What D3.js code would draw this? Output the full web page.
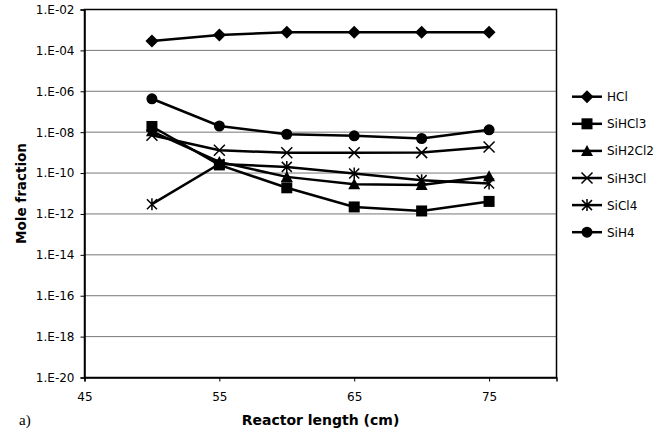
<!DOCTYPE html>
<html><head><meta charset="utf-8">
<script src="https://cdn.jsdelivr.net/npm/d3@7"></script>
<style>
html,body{margin:0;padding:0;background:#fff;}
svg{display:block;font-family:"DejaVu Sans",Verdana,sans-serif;}
</style></head>
<body><svg id="c" width="671" height="433"></svg>
<script>
const xValues = [50, 55, 60, 65, 70, 75];
const seriesNames = ["HCl", "SiHCl3", "SiH2Cl2", "SiH3Cl", "SiCl4", "SiH4"];
const HCl     = [2.9e-4, 5.7e-4, 7.8e-4, 7.8e-4, 7.8e-4, 7.8e-4];
const SiHCl3  = [1.9e-8, 2.5e-10, 1.9e-11, 2.2e-12, 1.4e-12, 4.1e-12];
const SiH2Cl2 = [1.1e-8, 3.5e-10, 6.5e-11, 2.8e-11, 2.6e-11, 7e-11];
const SiH3Cl  = [7e-9, 1.3e-9, 9.8e-10, 9.8e-10, 1.0e-9, 1.9e-9];
const SiCl4   = [3e-12, 2.8e-10, 2e-10, 9.5e-11, 4.5e-11, 3.1e-11];
const SiH4    = [4.3e-7, 2e-8, 7.9e-9, 6.6e-9, 4.9e-9, 1.3e-8];
const xTicks = [45, 55, 65, 75];
const yTicks = [1e-2, 1e-4, 1e-6, 1e-8, 1e-10, 1e-12, 1e-14, 1e-16, 1e-18, 1e-20];
const markerTypes = ["diamond", "square", "triangle", "x", "asterisk", "circle"];
const seriesValues = [HCl, SiHCl3, SiH2Cl2, SiH3Cl, SiCl4, SiH4];

const svg = d3.select("#c");
const L = 84.5, R = 556.5, T = 9.5, B = 377.5;
const x = d3.scaleLinear().domain([45, 80]).range([L, R]);
const y = d3.scaleLog().domain([1e-20, 1e-2]).range([B, T]);

const fmt = v => { const e = Math.round(Math.log10(v)); const a = Math.abs(e); return "1.E" + (e < 0 ? "-" : "+") + (a < 10 ? "0" : "") + a; };

// gridlines
svg.append("g").selectAll("line").data(yTicks).join("line")
  .attr("x1", L).attr("x2", R).attr("y1", d => y(d)).attr("y2", d => y(d))
  .attr("stroke", "#777").attr("stroke-width", 1);

// frame
svg.append("rect").attr("x", L).attr("y", T).attr("width", R - L).attr("height", B - T)
  .attr("fill", "none").attr("stroke", "#000").attr("stroke-width", 1.5);

// axes
const ya = svg.append("g").attr("transform", `translate(${L},0)`)
  .call(d3.axisLeft(y).tickValues(yTicks).tickFormat(fmt).tickSize(4).tickPadding(6));
ya.select(".domain").attr("stroke", "#000").attr("stroke-width", 1.5);
ya.selectAll("text").attr("font-size", 12).attr("fill", "#000").attr("font-family", "DejaVu Sans");
const xa = svg.append("g").attr("transform", `translate(0,${B})`)
  .call(d3.axisBottom(x).tickValues(xTicks).tickFormat(d3.format("d")).tickSize(4).tickPadding(11));
xa.select(".domain").attr("stroke", "#000").attr("stroke-width", 1.5);
xa.selectAll("text").attr("font-size", 12).attr("fill", "#000").attr("font-family", "DejaVu Sans");

// titles
svg.append("text").attr("x", (L + R) / 2).attr("y", 425).attr("text-anchor", "middle")
  .attr("font-size", 14).attr("font-weight", "bold").text("Reactor length (cm)");
svg.append("text").attr("transform", `translate(26,${(T + B) / 2}) rotate(-90)`).attr("text-anchor", "middle")
  .attr("font-size", 13.5).attr("font-weight", "bold").text("Mole fraction");
svg.append("text").attr("x", 19).attr("y", 425).attr("font-family", "Liberation Serif, serif")
  .attr("font-size", 15).text("a)");

function marker(g, type) {
  if (type === "diamond") g.append("path").attr("d", "M0,-6.5L6.5,0L0,6.5L-6.5,0Z").attr("fill", "#000");
  else if (type === "square") g.append("rect").attr("x", -5.5).attr("y", -5.5).attr("width", 11).attr("height", 11).attr("fill", "#000");
  else if (type === "triangle") g.append("path").attr("d", "M0,-6L6,5L-6,5Z").attr("fill", "#000");
  else if (type === "circle") g.append("circle").attr("r", 5.5).attr("fill", "#000");
  else if (type === "x") g.append("path").attr("d", "M-5.5,-5.5L5.5,5.5M-5.5,5.5L5.5,-5.5").attr("stroke", "#000").attr("stroke-width", 1.5);
  else if (type === "asterisk") g.append("path").attr("d", "M-5,-5L5,5M-5,5L5,-5M0,-6L0,6").attr("stroke", "#000").attr("stroke-width", 1.5);
}

const line = d3.line().x(d => x(d[0])).y(d => y(d[1]));
seriesValues.forEach((vals, i) => {
  const pts = xValues.map((xv, j) => [xv, vals[j]]);
  const g = svg.append("g");
  g.append("path").attr("d", line(pts)).attr("fill", "none").attr("stroke", "#000").attr("stroke-width", 2.5);
  pts.forEach(p => marker(g.append("g").attr("transform", `translate(${x(p[0])},${y(p[1])})`), markerTypes[i]));
});

// legend
const lg = svg.append("g");
seriesNames.forEach((n, i) => {
  const cy = 96.7 + i * 27.1;
  const g = lg.append("g").attr("transform", `translate(0,${cy})`);
  g.append("line").attr("x1", 572).attr("x2", 602).attr("stroke", "#000").attr("stroke-width", 2.5);
  marker(g.append("g").attr("transform", "translate(587,0)"), markerTypes[i]);
  g.append("text").attr("x", 607).attr("y", 4.5).attr("font-size", 12).text(n);
});
</script></body></html>
